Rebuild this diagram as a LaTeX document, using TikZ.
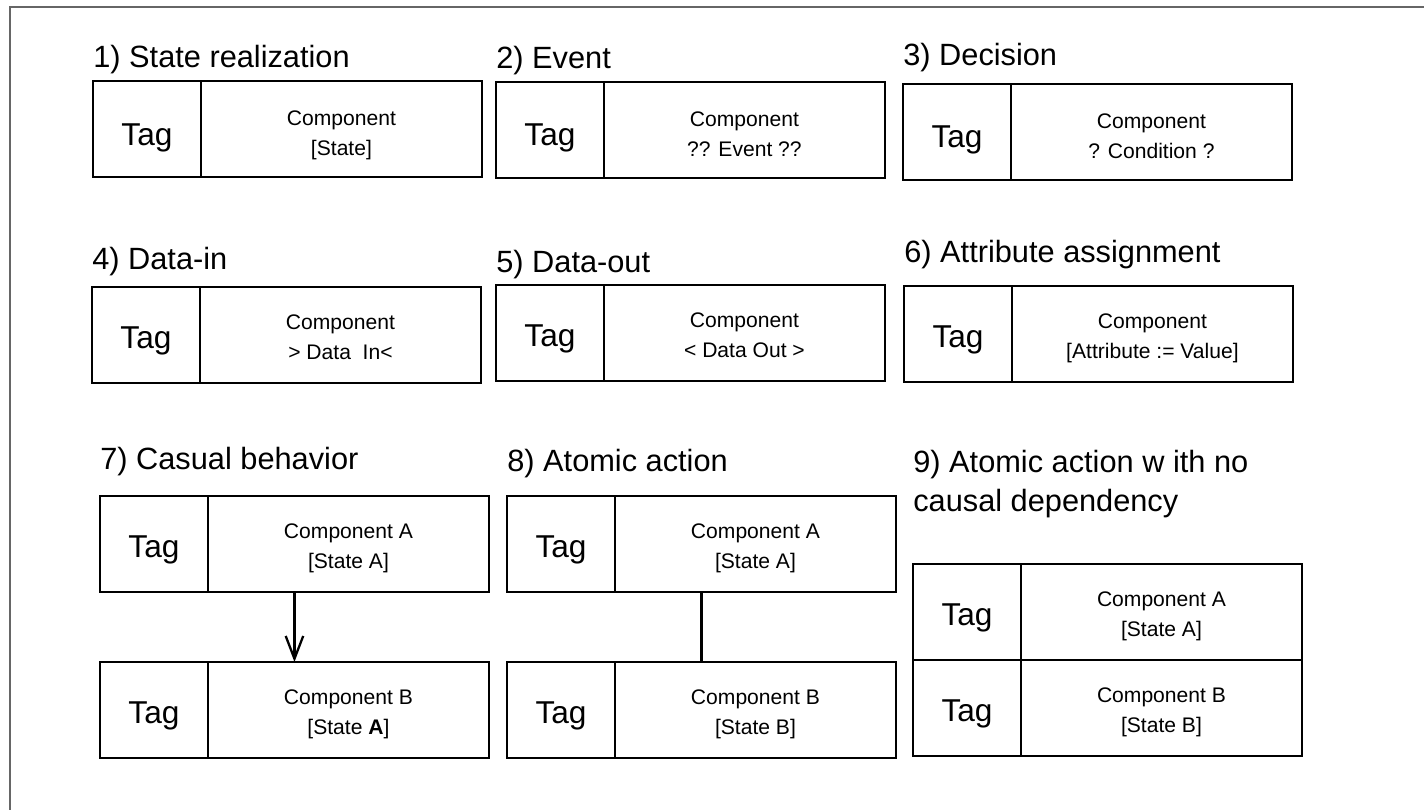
\documentclass[tikz,border=0pt]{standalone}
\usepackage{fontspec}
\setmainfont{Liberation Sans}
\usetikzlibrary{positioning,calc,arrows.meta}

\begin{document}
\begin{tikzpicture}[
    x=0.02cm, y=-0.02cm,
    tagcell/.style={
        draw,
        line width=1.3pt,
        outer sep=0pt,
        inner sep=0pt,
        minimum width=2.16cm,
        minimum height=1.92cm,
        text height=15pt,
        text depth=0pt,
        font=\fontsize{18}{20}\selectfont
    },
    compcell/.style={
        draw,
        line width=1.3pt,
        outer sep=0pt,
        inner sep=0pt,
        minimum width=5.62cm,
        minimum height=1.92cm,
        text height=27.6pt,
        text depth=0pt,
        align=center,
        font=\fontsize{12}{17}\selectfont
    },
    lower/.style={text height=#1},
    heading/.style={anchor=base west, inner sep=0pt, align=left,
        font=\fontsize{17.5}{22.7}\selectfont},
    arrow/.style={-{Straight Barb[length=13pt,width=10pt]}, line width=1.3pt},
    link/.style={line width=1.3pt},
    frame/.style={draw=black!60, line width=0.8pt}
]

\useasboundingbox (0,0) rectangle (1424,810);
\draw[frame] (10,810) -- (10,7) -- (1424,7);

% first row
\node[heading] (h1) at (93,68) {1) State realization};
\node[tagcell, lower=19pt, anchor=north west] (t1) at (93,81) {Tag};
\node[compcell, lower=30.6pt, right=0pt of t1] (c1) {Component\\{[State]}};

\node[heading] (h2) at (496,69) {2) Event};
\node[tagcell, lower=18pt, anchor=north west] (t2) at (496,82) {Tag};
\node[compcell, lower=30pt, right=0pt of t2] (c2) {Component\\?? Event ??};

\node[heading] (h3) at (903,66) {3) Decision};
\node[tagcell, lower=18pt, anchor=north west] (t3) at (903,84) {Tag};
\node[compcell, lower=30pt, right=0pt of t3] (c3) {Component\\? Condition ?};

% second row
\node[heading] (h4) at (92,270) {4) Data-in};
\node[tagcell, anchor=north west] (t4) at (92,287) {Tag};
\node[compcell, right=0pt of t4] (c4) {Component\\> Data\ \ In<};

\node[heading] (h5) at (496,273) {5) Data-out};
\node[tagcell, anchor=north west] (t5) at (496,285) {Tag};
\node[compcell, right=0pt of t5] (c5) {Component\\< Data Out >};

\node[heading] (h6) at (904,263) {6) Attribute assignment};
\node[tagcell, anchor=north west] (t6) at (904,286) {Tag};
\node[compcell, right=0pt of t6] (c6) {Component\\{[Attribute := Value]}};

% third row
\node[heading] (h7) at (100,470) {7) Casual behavior};
\node[tagcell, anchor=north west] (t7a) at (100,496) {Tag};
\node[compcell, right=0pt of t7a] (c7a) {Component A\\{[State A]}};
\node[tagcell, below=1.4cm of t7a] (t7b) {Tag};
\node[compcell, right=0pt of t7b] (c7b) {Component B\\{[State \textbf{A}]}};

\node[heading] (h8) at (507,472) {8) Atomic action};
\node[tagcell, anchor=north west] (t8a) at (507,496) {Tag};
\node[compcell, right=0pt of t8a] (c8a) {Component A\\{[State A]}};
\node[tagcell, below=1.4cm of t8a] (t8b) {Tag};
\node[compcell, right=0pt of t8b] (c8b) {Component B\\{[State B]}};

\node[heading] (h9) at (913,512) {9) Atomic action w ith no\\causal dependency};
\node[tagcell, anchor=north west] (t9a) at (913,564) {Tag};
\node[compcell, right=0pt of t9a] (c9a) {Component A\\{[State A]}};
\node[tagcell, below=0pt of t9a] (t9b) {Tag};
\node[compcell, right=0pt of t9b] (c9b) {Component B\\{[State B]}};

% connectors
\draw[arrow] ($(t7a.south west)!0.5!(c7a.south east)$)
    -- ($(t7b.north west)!0.5!(c7b.north east)$);
\draw[link] ($(t8a.south west)!0.5!(c8a.south east)$)
    -- ($(t8b.north west)!0.5!(c8b.north east)$);

\end{tikzpicture}
\end{document}
